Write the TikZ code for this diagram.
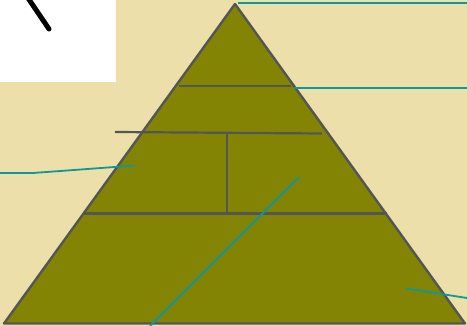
\documentclass[tikz,border=0pt]{standalone}
\usepackage{xcolor}
\usepackage{tikz}
\usetikzlibrary{calc}
\definecolor{Parchment}{RGB}{237,223,170}
\definecolor{PyrFill}{RGB}{132,132,4}
\definecolor{PyrEdge}{RGB}{85,85,85}
\definecolor{Leader}{RGB}{14,152,152}

\begin{document}
\begin{tikzpicture}[
x=1pt,y=-1pt,
edge/.style={draw=PyrEdge,line width=2.4pt},
tier/.style={draw=PyrEdge,line width=2.2pt},
leader/.style={draw=Leader,line width=1.8pt}
]
% background and frame
\fill[Parchment] (0,0) rectangle (467,326);
\useasboundingbox (0,0) rectangle (467,326);
\fill[white] (0,0) rectangle (116,82);
\draw[line width=5pt,line cap=round] (28,-2) -- (49,29);
% pyramid
\coordinate (apex) at (235,4);
\coordinate (bl) at (4,323.5);
\coordinate (br) at (465,323.5);
\filldraw[fill=PyrFill,edge,line join=round] (apex) -- (bl) -- (br) -- cycle;
% tiers
\draw[tier] (179,86) -- (291,86);
\draw[tier] (115,132) -- (322,133.5);
\draw[tier] (227,132) -- (227,212);
\draw[tier] (83,213.5) -- (387,213.5);
% leader lines
\draw[leader] (238,3) -- (467,3);
\draw[leader] (294,88) -- (467,88);
\draw[leader] (0,173) -- (33,173) -- (135,165.5);
\draw[leader] (299,177) -- (150,326);
\draw[leader] (406,288.5) -- (467,298);
\end{tikzpicture}
\end{document}
